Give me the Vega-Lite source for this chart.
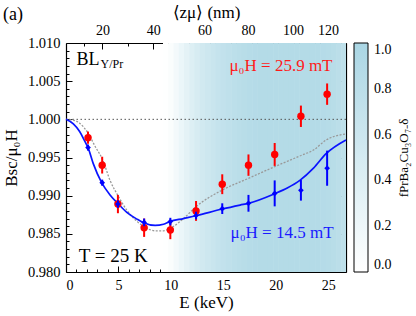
{
  "$schema": "https://vega.github.io/schema/vega-lite/v6.json",
  "width": 280,
  "height": 229,
  "autosize": {"type": "none"},
  "padding": {"left": 66, "top": 43, "right": 70, "bottom": 44},
  "background": "white",
  "config": {
    "view": {"stroke": null},
    "font": "Liberation Serif",
    "axis": {"labelFont": "Liberation Serif", "titleFont": "Liberation Serif", "labelFontSize": 14, "titleFontSize": 17, "titleFontWeight": "normal", "grid": false, "domainColor": "black", "tickColor": "black", "labelColor": "black", "titleColor": "black", "zindex": 1, "domainWidth": 1.2}
  },
  "datasets": {
    "red": [
      {"E": 2.1, "v": 0.9976, "err": 0.0008},
      {"E": 3.45, "v": 0.9940, "err": 0.0011},
      {"E": 4.95, "v": 0.9889, "err": 0.0012},
      {"E": 7.45, "v": 0.9858, "err": 0.0012},
      {"E": 9.95, "v": 0.9855, "err": 0.0012},
      {"E": 12.4, "v": 0.9880, "err": 0.0013},
      {"E": 14.9, "v": 0.9915, "err": 0.0013},
      {"E": 17.4, "v": 0.9940, "err": 0.0014},
      {"E": 19.9, "v": 0.9954, "err": 0.0015},
      {"E": 22.4, "v": 1.0004, "err": 0.0014},
      {"E": 24.9, "v": 1.0033, "err": 0.0014}
    ],
    "blue": [
      {"E": 2.1, "v": 0.9963, "err": 0.0004},
      {"E": 3.45, "v": 0.9917, "err": 0.0004},
      {"E": 4.95, "v": 0.9889, "err": 0.0005},
      {"E": 7.45, "v": 0.9865, "err": 0.0005},
      {"E": 9.95, "v": 0.9866, "err": 0.0005},
      {"E": 12.4, "v": 0.9874, "err": 0.0005},
      {"E": 14.9, "v": 0.9883, "err": 0.0007},
      {"E": 17.4, "v": 0.9890, "err": 0.0011},
      {"E": 19.9, "v": 0.9903, "err": 0.0017},
      {"E": 22.4, "v": 0.9907, "err": 0.00135},
      {"E": 24.9, "v": 0.9936, "err": 0.0023}
    ],
    "fitBlue": [
      {"E": 0, "v": 1.0},
      {"E": 0.7, "v": 0.9994},
      {"E": 1.3, "v": 0.9984},
      {"E": 1.8, "v": 0.9971},
      {"E": 2.1, "v": 0.9963},
      {"E": 2.6, "v": 0.9942},
      {"E": 3.4, "v": 0.9917},
      {"E": 4.2, "v": 0.9901},
      {"E": 5.0, "v": 0.9889},
      {"E": 5.8, "v": 0.9878},
      {"E": 6.8, "v": 0.9869},
      {"E": 7.4, "v": 0.98646},
      {"E": 8.5, "v": 0.9861},
      {"E": 9.3, "v": 0.98625},
      {"E": 9.9, "v": 0.9866},
      {"E": 11.2, "v": 0.9870},
      {"E": 12.4, "v": 0.98737},
      {"E": 14.9, "v": 0.98825},
      {"E": 16.6, "v": 0.98877},
      {"E": 17.4, "v": 0.9890},
      {"E": 19.9, "v": 0.99026},
      {"E": 21.1, "v": 0.9910},
      {"E": 22.3, "v": 0.9920},
      {"E": 23.6, "v": 0.9936},
      {"E": 24.8, "v": 0.9955},
      {"E": 26.7, "v": 0.9973}
    ],
    "fitGray": [
      {"E": 0, "v": 1.0},
      {"E": 0.7, "v": 0.9999},
      {"E": 1.3, "v": 0.9995},
      {"E": 2.1, "v": 0.9982},
      {"E": 2.8, "v": 0.9964},
      {"E": 3.5, "v": 0.9947},
      {"E": 4.2, "v": 0.9920},
      {"E": 5.0, "v": 0.9899},
      {"E": 5.8, "v": 0.9881},
      {"E": 6.8, "v": 0.9866},
      {"E": 7.5, "v": 0.9859},
      {"E": 8.5, "v": 0.9854},
      {"E": 9.3, "v": 0.9854},
      {"E": 9.9, "v": 0.9857},
      {"E": 11.2, "v": 0.9870},
      {"E": 12.4, "v": 0.98855},
      {"E": 14.9, "v": 0.99074},
      {"E": 17.4, "v": 0.99227},
      {"E": 19.9, "v": 0.99380},
      {"E": 22.3, "v": 0.99520},
      {"E": 23.6, "v": 0.99598},
      {"E": 24.8, "v": 0.99729},
      {"E": 26.7, "v": 0.99808}
    ],
    "bg": [
      {"a": 9.25, "b": 9.8, "f": 0.01},
      {"a": 9.75, "b": 10.3, "f": 0.06},
      {"a": 10.25, "b": 10.8, "f": 0.14},
      {"a": 10.75, "b": 11.3, "f": 0.23},
      {"a": 11.25, "b": 11.8, "f": 0.32},
      {"a": 11.75, "b": 12.3, "f": 0.40},
      {"a": 12.25, "b": 12.8, "f": 0.47},
      {"a": 12.75, "b": 13.3, "f": 0.54},
      {"a": 13.25, "b": 13.8, "f": 0.59},
      {"a": 13.75, "b": 14.3, "f": 0.64},
      {"a": 14.25, "b": 14.8, "f": 0.68},
      {"a": 14.75, "b": 15.3, "f": 0.72},
      {"a": 15.25, "b": 15.8, "f": 0.755},
      {"a": 15.75, "b": 16.3, "f": 0.785},
      {"a": 16.25, "b": 16.8, "f": 0.815},
      {"a": 16.75, "b": 17.3, "f": 0.84},
      {"a": 17.25, "b": 17.8, "f": 0.86},
      {"a": 17.75, "b": 18.3, "f": 0.87},
      {"a": 18.25, "b": 18.8, "f": 0.88},
      {"a": 18.75, "b": 19.3, "f": 0.88},
      {"a": 19.25, "b": 19.8, "f": 0.88},
      {"a": 19.75, "b": 20.3, "f": 0.88},
      {"a": 20.25, "b": 20.8, "f": 0.88},
      {"a": 20.75, "b": 21.3, "f": 0.88},
      {"a": 21.25, "b": 21.8, "f": 0.88},
      {"a": 21.75, "b": 22.3, "f": 0.88},
      {"a": 22.25, "b": 22.8, "f": 0.88},
      {"a": 22.75, "b": 23.3, "f": 0.88},
      {"a": 23.25, "b": 23.8, "f": 0.88},
      {"a": 23.75, "b": 24.3, "f": 0.88},
      {"a": 24.25, "b": 24.8, "f": 0.87},
      {"a": 24.75, "b": 25.3, "f": 0.86},
      {"a": 25.25, "b": 25.8, "f": 0.84},
      {"a": 25.75, "b": 26.3, "f": 0.80},
      {"a": 26.25, "b": 26.7, "f": 0.76}
    ]
  },
  "resolve": {"axis": {"x": "independent", "y": "independent"}},
  "layer": [
    {
      "data": {"name": "bg"},
      "mark": {"type": "rect"},
      "encoding": {
        "x": {"field": "a", "type": "quantitative", "scale": {"domain": [0, 26.7], "nice": false, "zero": false}, "axis": null},
        "x2": {"field": "b"},
        "color": {"field": "f", "type": "quantitative", "scale": {"domain": [0, 1], "range": ["#ffffff", "#aad6e4"], "interpolate": "rgb"},
          "legend": {"type": "gradient", "orient": "right", "offset": 7, "direction": "vertical", "gradientLength": 229, "gradientThickness": 14, "gradientStrokeColor": "black", "gradientStrokeWidth": 1, "values": [0, 0.2, 0.4, 0.6, 0.8, 1], "format": ".1f", "labelFont": "Liberation Serif", "labelFontSize": 14, "labelColor": "black", "labelOffset": 6, "labelOverlap": false, "title": "fPrBa₂Cu₃O₇₋δ", "titleOrient": "right", "titleFont": "Liberation Serif", "titleFontSize": 13, "titleFontWeight": "normal", "titleColor": "black", "titlePadding": 6, "titleAnchor": "middle",
            "encode": {"title": {"update": {"angle": {"value": -90}, "baseline": {"value": "top"}}}}}}
      }
    },
    {
      "data": {"values": [{}]},
      "mark": {"type": "rule", "color": "#555555", "strokeDash": [1.5, 2.5], "strokeWidth": 1},
      "encoding": {"y": {"datum": 1.0, "type": "quantitative", "scale": {"domain": [0.98, 1.01], "nice": false, "zero": false}, "axis": null}}
    },
    {
      "data": {"name": "fitGray"},
      "mark": {"type": "line", "color": "#999999", "strokeDash": [2, 1.5], "strokeWidth": 1.3, "interpolate": "monotone"},
      "encoding": {
        "x": {"field": "E", "type": "quantitative", "axis": null},
        "y": {"field": "v", "type": "quantitative", "axis": null}
      }
    },
    {
      "data": {"name": "fitBlue"},
      "mark": {"type": "line", "color": "#0a14ff", "strokeWidth": 1.7, "interpolate": "monotone"},
      "encoding": {
        "x": {"field": "E", "type": "quantitative", "axis": null},
        "y": {"field": "v", "type": "quantitative", "axis": null}
      }
    },
    {
      "data": {"name": "red"},
      "mark": {"type": "errorbar", "ticks": false, "color": "#ff0000", "thickness": 2},
      "encoding": {
        "x": {"field": "E", "type": "quantitative", "axis": null},
        "y": {"field": "v", "type": "quantitative", "axis": null},
        "yError": {"field": "err"}
      }
    },
    {
      "data": {"name": "red"},
      "mark": {"type": "point", "shape": "circle", "filled": true, "color": "#ff0000", "size": 55, "opacity": 1},
      "encoding": {
        "x": {"field": "E", "type": "quantitative", "axis": null},
        "y": {"field": "v", "type": "quantitative", "axis": null}
      }
    },
    {
      "data": {"name": "blue"},
      "mark": {"type": "errorbar", "ticks": false, "color": "#0000ff", "thickness": 2},
      "encoding": {
        "x": {"field": "E", "type": "quantitative", "axis": null},
        "y": {"field": "v", "type": "quantitative", "axis": null},
        "yError": {"field": "err"}
      }
    },
    {
      "data": {"name": "blue"},
      "mark": {"type": "point", "shape": "diamond", "filled": true, "color": "#0000ff", "size": 32, "opacity": 1},
      "encoding": {
        "x": {"field": "E", "type": "quantitative", "axis": null},
        "y": {"field": "v", "type": "quantitative", "axis": null}
      }
    },
    {
      "data": {"values": [{}]},
      "mark": {"type": "text", "color": "#ff1a1a", "fontSize": 17, "align": "center", "baseline": "middle"},
      "encoding": {"x": {"datum": 20.5, "type": "quantitative", "axis": null}, "y": {"datum": 1.0070, "type": "quantitative", "axis": null}, "text": {"value": "μ₀H = 25.9 mT"}}
    },
    {
      "data": {"values": [{}]},
      "mark": {"type": "text", "color": "#1a1aff", "fontSize": 17, "align": "center", "baseline": "middle"},
      "encoding": {"x": {"datum": 20.6, "type": "quantitative", "axis": null}, "y": {"datum": 0.9851, "type": "quantitative", "axis": null}, "text": {"value": "μ₀H = 14.5 mT"}}
    },
    {
      "data": {"values": [{}]},
      "mark": {"type": "text", "color": "black", "fontSize": 19, "align": "center", "baseline": "middle"},
      "encoding": {"x": {"datum": 4.5, "type": "quantitative", "axis": null}, "y": {"datum": 0.9821, "type": "quantitative", "axis": null}, "text": {"value": "T = 25 K"}}
    },
    {
      "data": {"values": [{}]},
      "mark": {"type": "text", "color": "black", "fontSize": 18, "align": "left", "baseline": "middle"},
      "encoding": {"x": {"datum": 1.0, "type": "quantitative", "axis": null}, "y": {"datum": 1.0078, "type": "quantitative", "axis": null}, "text": {"value": "BL"}}
    },
    {
      "data": {"values": [{}]},
      "mark": {"type": "text", "color": "black", "fontSize": 12, "align": "left", "baseline": "middle"},
      "encoding": {"x": {"datum": 3.3, "type": "quantitative", "axis": null}, "y": {"datum": 1.0072, "type": "quantitative", "axis": null}, "text": {"value": "Y/Pr"}}
    },
    {
      "data": {"values": [{}]},
      "mark": {"type": "text", "color": "black", "fontSize": 18, "align": "left", "baseline": "middle"},
      "encoding": {"x": {"datum": -6.0, "type": "quantitative", "axis": null}, "y": {"datum": 1.0137, "type": "quantitative", "axis": null}, "text": {"value": "(a)"}}
    },
    {
      "data": {"name": "red"},
      "mark": {"type": "point", "opacity": 0},
      "encoding": {
        "x": {"field": "E", "type": "quantitative", "axis": {"orient": "bottom", "values": [0, 5, 10, 15, 20, 25], "tickSize": -6, "labelPadding": 12, "title": "E (keV)", "titlePadding": 2}},
        "y": {"field": "v", "type": "quantitative", "axis": {"orient": "left", "values": [0.98, 0.985, 0.99, 0.995, 1.0, 1.005, 1.01], "format": ".3f", "tickSize": -6, "labelPadding": 12, "labelFontSize": 14.5, "title": "Bsc/μ₀H", "titlePadding": 7}}
      }
    },
    {
      "data": {"name": "red"},
      "mark": {"type": "point", "opacity": 0},
      "encoding": {
        "x": {"field": "E", "type": "quantitative", "axis": {"orient": "bottom", "values": [1, 2, 3, 4, 6, 7, 8, 9, 11, 12, 13, 14, 16, 17, 18, 19, 21, 22, 23, 24, 26], "tickSize": -3, "labels": false, "domain": false, "title": null}},
        "y": {"field": "v", "type": "quantitative", "axis": {"orient": "left", "values": [0.981, 0.982, 0.983, 0.984, 0.986, 0.987, 0.988, 0.989, 0.991, 0.992, 0.993, 0.994, 0.996, 0.997, 0.998, 0.999, 1.001, 1.002, 1.003, 1.004, 1.006, 1.007, 1.008, 1.009], "tickSize": -3, "labels": false, "domain": false, "title": null}}
      }
    },
    {
      "data": {"name": "red"},
      "mark": {"type": "point", "opacity": 0},
      "encoding": {
        "x": {"field": "E", "type": "quantitative", "axis": {"orient": "top", "values": [3.48, 8.33, 13.2, 17.36, 21.65, 24.98], "labelExpr": "datum.value < 5 ? '20' : datum.value < 10 ? '40' : datum.value < 15 ? '60' : datum.value < 19 ? '80' : datum.value < 23 ? '100' : '120'", "tickSize": -6, "labelPadding": 12, "title": "⟨zμ⟩ (nm)", "titlePadding": 2}},
        "y": {"field": "v", "type": "quantitative", "axis": {"orient": "right", "values": [0.98, 0.985, 0.99, 0.995, 1.0, 1.005, 1.01], "tickSize": -6, "labels": false, "title": null}}
      }
    },
    {
      "data": {"name": "red"},
      "mark": {"type": "point", "opacity": 0},
      "encoding": {
        "x": {"field": "E", "type": "quantitative", "axis": {"orient": "top", "values": [1.7, 5.9, 10.8, 15.3, 19.5, 23.3], "tickSize": -3, "labels": false, "domain": false, "title": null}},
        "y": {"field": "v", "type": "quantitative", "axis": {"orient": "right", "values": [0.981, 0.982, 0.983, 0.984, 0.986, 0.987, 0.988, 0.989, 0.991, 0.992, 0.993, 0.994, 0.996, 0.997, 0.998, 0.999, 1.001, 1.002, 1.003, 1.004, 1.006, 1.007, 1.008, 1.009], "tickSize": -3, "labels": false, "domain": false, "title": null}}
      }
    }
  ]
}
